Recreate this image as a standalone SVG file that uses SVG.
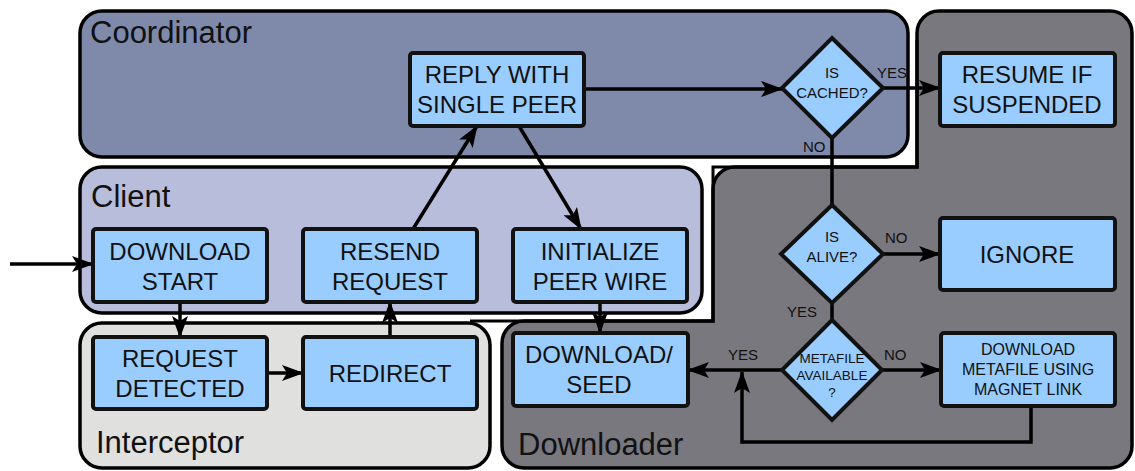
<svg xmlns="http://www.w3.org/2000/svg" width="1135" height="471" viewBox="0 0 1135 471">
<defs>
<marker id="arr" viewBox="0 0 22 16" refX="21" refY="8" markerWidth="22" markerHeight="16" markerUnits="userSpaceOnUse" orient="auto">
<path d="M0,0 L22,8 L0,16 L5,8 z" fill="#000"/>
</marker>
<style>
.cont{stroke:#000;stroke-width:3.5}
.clabel{font-family:"Liberation Sans",Arial,sans-serif;font-size:31px;fill:#111}
.node{fill:#99ccff;stroke:#111;stroke-width:4}
.nt{font-family:"Liberation Sans",Arial,sans-serif;font-size:24px;fill:#111;text-anchor:middle}
.dt{font-family:"Liberation Sans",Arial,sans-serif;font-size:16px;fill:#111;text-anchor:middle}
.lbl{font-family:"Liberation Sans",Arial,sans-serif;font-size:15px;fill:#111}
.conn{fill:none;stroke:#000;stroke-width:3.5}
.arrow{marker-end:url(#arr)}
</style>
</defs>
<rect width="1135" height="471" fill="#fff"/>

<g id="downloader">
<path class="cont" fill="#78787e" d="M939,11 H1110 A22,22 0 0 1 1132,33 V446 A22,22 0 0 1 1110,468 H524 A22,22 0 0 1 502,446 V343 A22,22 0 0 1 524,321 H713 V189 A22,22 0 0 1 735,167 H917 V33 A22,22 0 0 1 939,11 Z"/>
<path fill="none" stroke="#000" stroke-width="3" d="M470,321 H713 V167 H917 V40"/>
<text class="clabel" x="518" y="455">Downloader</text>
</g>
<g id="coordinator">
<rect class="cont" x="80" y="11" width="828" height="146" rx="22" fill="#7f8aab"/>
<text class="clabel" x="90" y="43">Coordinator</text>
</g>
<g id="client">
<rect class="cont" x="80" y="167" width="622" height="146" rx="22" fill="#b7bddb"/>
<text class="clabel" x="91" y="207">Client</text>
</g>
<g id="interceptor">
<rect class="cont" x="80" y="323" width="410" height="145" rx="22" fill="#e0e0de"/>
<text class="clabel" x="96" y="453">Interceptor</text>
</g>

<g id="connectors">
<path class="conn arrow" d="M10,264 H93"/>
<path class="conn arrow" d="M180,302 V337"/>
<path class="conn arrow" d="M267,373 H303"/>
<path class="conn arrow" d="M390,337 V302"/>
<path class="conn arrow" d="M413,229 L477,126"/>
<path class="conn arrow" d="M519,126 L581,229"/>
<path class="conn arrow" d="M600,302 V333"/>
<path class="conn arrow" d="M584,89 H782"/>
<path class="conn arrow" d="M883,88 H940"/>
<path class="conn" d="M832,138 V205"/>
<path class="conn arrow" d="M883,254 H940"/>
<path class="conn" d="M832,303 V320"/>
<path class="conn arrow" d="M782,370 H688"/>
<path class="conn arrow" d="M882,370 H941"/>
<path class="conn arrow" d="M1031,406 V442 H742 V372"/>
<text class="lbl" x="877" y="78">YES</text>
<text class="lbl" x="803" y="152">NO</text>
<text class="lbl" x="885" y="243">NO</text>
<text class="lbl" x="787" y="317">YES</text>
<text class="lbl" x="728" y="360">YES</text>
<text class="lbl" x="884" y="360">NO</text>
</g>

<g id="reply">
<rect class="node" x="410" y="53" width="174" height="73" rx="3"/>
<text class="nt" x="497" y="83">REPLY WITH</text>
<text class="nt" x="497" y="113">SINGLE PEER</text>
</g>
<g id="is-cached">
<polygon class="node" points="832,38 883,88 832,138 782,88"/>
<text class="dt" x="832" y="78" style="font-size:15px">IS</text>
<text class="dt" x="832" y="98" style="font-size:15px">CACHED?</text>
</g>
<g id="resume">
<rect class="node" x="940" y="53" width="175" height="73" rx="3"/>
<text class="nt" x="1027" y="83">RESUME IF</text>
<text class="nt" x="1027" y="113">SUSPENDED</text>
</g>
<g id="download-start">
<rect class="node" x="93" y="229" width="174" height="73" rx="3"/>
<text class="nt" x="180" y="260">DOWNLOAD</text>
<text class="nt" x="180" y="290">START</text>
</g>
<g id="resend">
<rect class="node" x="303" y="229" width="174" height="73" rx="3"/>
<text class="nt" x="390" y="260">RESEND</text>
<text class="nt" x="390" y="290">REQUEST</text>
</g>
<g id="initialize">
<rect class="node" x="513" y="229" width="174" height="73" rx="3"/>
<text class="nt" x="600" y="260">INITIALIZE</text>
<text class="nt" x="600" y="290">PEER WIRE</text>
</g>
<g id="request-detected">
<rect class="node" x="93" y="337" width="174" height="72" rx="3"/>
<text class="nt" x="180" y="367">REQUEST</text>
<text class="nt" x="180" y="397">DETECTED</text>
</g>
<g id="redirect">
<rect class="node" x="303" y="337" width="174" height="72" rx="3"/>
<text class="nt" x="390" y="382">REDIRECT</text>
</g>
<g id="is-alive">
<polygon class="node" points="832,205 883,254 832,303 781,254"/>
<text class="dt" x="832" y="242" style="font-size:15px">IS</text>
<text class="dt" x="832" y="262" style="font-size:15px">ALIVE?</text>
</g>
<g id="ignore">
<rect class="node" x="940" y="218" width="175" height="72" rx="3"/>
<text class="nt" x="1027" y="263">IGNORE</text>
</g>
<g id="download-seed">
<rect class="node" x="513" y="333" width="175" height="73" rx="3"/>
<text class="nt" x="599" y="363">DOWNLOAD/</text>
<text class="nt" x="599" y="393">SEED</text>
</g>
<g id="metafile-available">
<polygon class="node" points="832,320 882,370 832,420 782,370"/>
<text class="dt" x="832" y="363" style="font-size:13.5px">METAFILE</text>
<text class="dt" x="832" y="380" style="font-size:13.5px">AVAILABLE</text>
<text class="dt" x="832" y="397" style="font-size:13.5px">?</text>
</g>
<g id="download-metafile">
<rect class="node" x="941" y="333" width="174" height="73" rx="3"/>
<text class="dt" x="1028" y="355">DOWNLOAD</text>
<text class="dt" x="1028" y="375">METAFILE USING</text>
<text class="dt" x="1028" y="395">MAGNET LINK</text>
</g>
</svg>
